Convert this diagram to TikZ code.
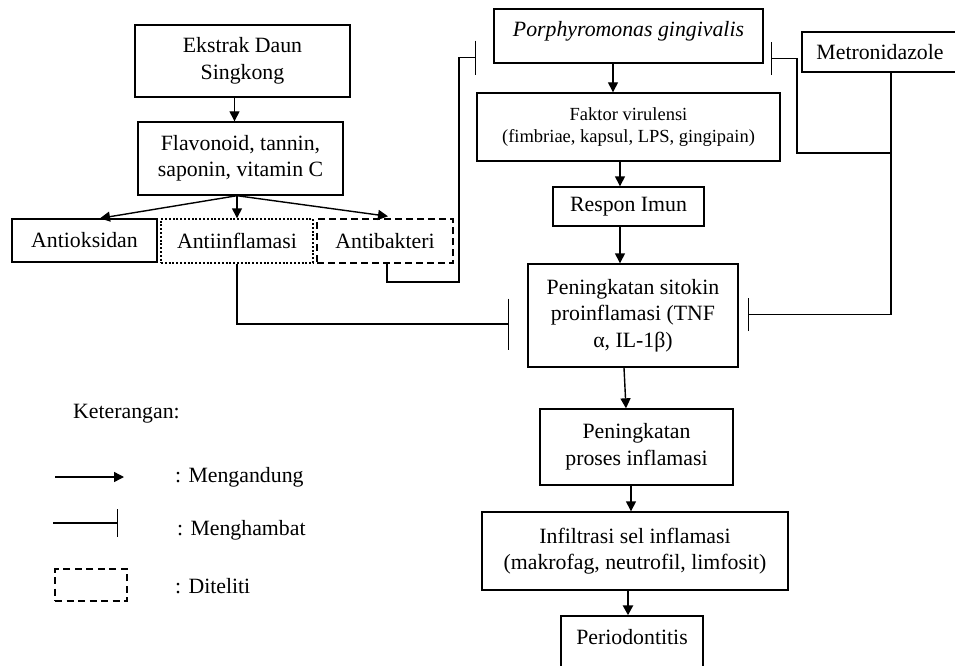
\documentclass[tikz,border=0pt]{standalone}
\usepackage{fontspec}
\setmainfont{Liberation Serif}
\usetikzlibrary{arrows.meta,calc}
\begin{document}
\begin{tikzpicture}[x=1pt,y=-1pt,
  txt/.style={font=\fontsize{21.8}{26.5}\selectfont},
  box/.style={draw, line width=1.4pt, rectangle, inner sep=0pt, align=center, txt},
  smallbox/.style={box, font=\fontsize{18.5}{21.7}\selectfont},
  dottedbox/.style={box, dash pattern=on 2pt off 1.8pt},
  dashedbox/.style={box, dash pattern=on 7pt off 4pt},
  arr/.style={line width=1.4pt, -{Triangle[length=10pt,width=10pt]}},
  inh/.style={line width=1.4pt, -{Bar[width=#1, line width=1.5pt]}},
]
\useasboundingbox (0,0) rectangle (955,666);
\clip (0,0) rectangle (955,666);

% left column
\node[box, minimum width=215pt, minimum height=72pt] (ek) at (242.5,61) {Ekstrak Daun\\Singkong};
\node[box, minimum width=205pt, minimum height=73pt] (fl) at (240.5,158.5) {Flavonoid, tannin,\\saponin, vitamin C};
\node[box, minimum width=145pt, minimum height=43pt] (ao) at (84.5,240.5) {Antioksidan};
\node[dottedbox, minimum width=152pt, minimum height=44pt] (ai) at (237,241) {Antiinflamasi};
\node[dashedbox, minimum width=136pt, minimum height=44pt] (ab) at (385,241) {Antibakteri};

% right column
\node[box, minimum width=269pt, minimum height=54pt, text height=15pt, text depth=13pt] (pg) at (628.5,36) {\itshape Porphyromonas gingivalis};
\node[smallbox, minimum width=303pt, minimum height=68pt] (fv) at (628.5,127) {Faktor virulensi\\(fimbriae, kapsul, LPS, gingipain)};
\node[box, minimum width=151pt, minimum height=39pt] (ri) at (628.5,206.5) {Respon Imun};
\node[box, minimum width=210pt, minimum height=103pt] (ps) at (633,315.5) {Peningkatan sitokin\\proinflamasi (TNF\\α, IL-1β)};
\node[box, minimum width=193pt, minimum height=76pt] (pp) at (636.5,447) {Peningkatan\\proses inflamasi};
\node[box, minimum width=306pt, minimum height=78pt] (inf) at (635,551) {Infiltrasi sel inflamasi\\(makrofag, neutrofil, limfosit)};
\node[box, minimum width=142pt, minimum height=70pt, text height=15pt, text depth=29pt] (per) at (632,651) {Periodontitis};
\node[box, minimum width=156pt, minimum height=40pt] (mz) at (880,52) {Metronidazole};

% arrows left
\draw[arr] ([xshift=-8pt]ek.south) -- ([xshift=-8pt]ek.south |- fl.north);
\coordinate (fls) at ([xshift=-3.5pt]fl.south);
\draw[arr] (fls) -- ([xshift=15.5pt]ao.north);
\draw[arr] (fls) -- (ai.north);
\draw[arr] (fls) -- ([xshift=3pt,yshift=2pt]ab.north);

% inhibition lines
\coordinate (j1) at (459,282);
\draw[inh=34pt, shorten >=17pt] ([xshift=2pt]ab.south) |- (j1) |- ([yshift=6pt]pg.south west);
\draw[inh=51pt, shorten >=18pt] (ai.south) |- ([yshift=-8.5pt]ps.west);
\draw[inh=33pt, shorten >=9pt] ([xshift=11pt]mz.south) |- ([yshift=1pt]ps.east);
\coordinate (j2) at (891,153);
\coordinate (j3) at (797,153);
\draw[inh=33pt, shorten >=7pt] (j2) -- (j3) |- ([yshift=5pt]pg.south east);

% arrows right
\draw[arr] ([xshift=-15.5pt]pg.south) -- ([xshift=-15.5pt]pg.south |- fv.north);
\draw[arr] ([xshift=-8.5pt]fv.south) -- ([xshift=-8.5pt]fv.south |- ri.north);
\draw[arr] ([xshift=-8.5pt]ri.south) -- ([xshift=-8.5pt]ri.south |- ps.north);
\draw[arr] ([xshift=-9pt]ps.south) -- ([xshift=-10.5pt]pp.north);
\draw[arr] ([xshift=-5.5pt]pp.south) -- ([xshift=-5.5pt]pp.south |- inf.north);
\draw[arr, line width=2.4pt] ([xshift=-7pt]inf.south) -- ([xshift=-7pt]inf.south |- per.north);

% legend
\node[txt, anchor=base west, inner sep=0pt] (ket) at (73,418) {Keterangan:};
\coordinate (la1) at (55,477);
\coordinate (la2) at (124,477);
\draw[arr] (la1) -- (la2);
\node[txt, anchor=base west, inner sep=0pt] (lt1) at (175,482) {: Mengandung};
\coordinate (lb1) at (53,523);
\coordinate (lb2) at (118,523);
\draw[inh=28pt] (lb1) -- (lb2);
\node[txt, anchor=base west, inner sep=0pt] (lt2) at (177,535) {: Menghambat};
\node[draw, line width=1.4pt, dash pattern=on 7pt off 4.5pt, minimum width=72pt, minimum height=32pt, inner sep=0pt] (lbox) at (91,585) {};
\node[txt, anchor=base west, inner sep=0pt] (lt3) at (175,593) {: Diteliti};
\end{tikzpicture}
\end{document}
